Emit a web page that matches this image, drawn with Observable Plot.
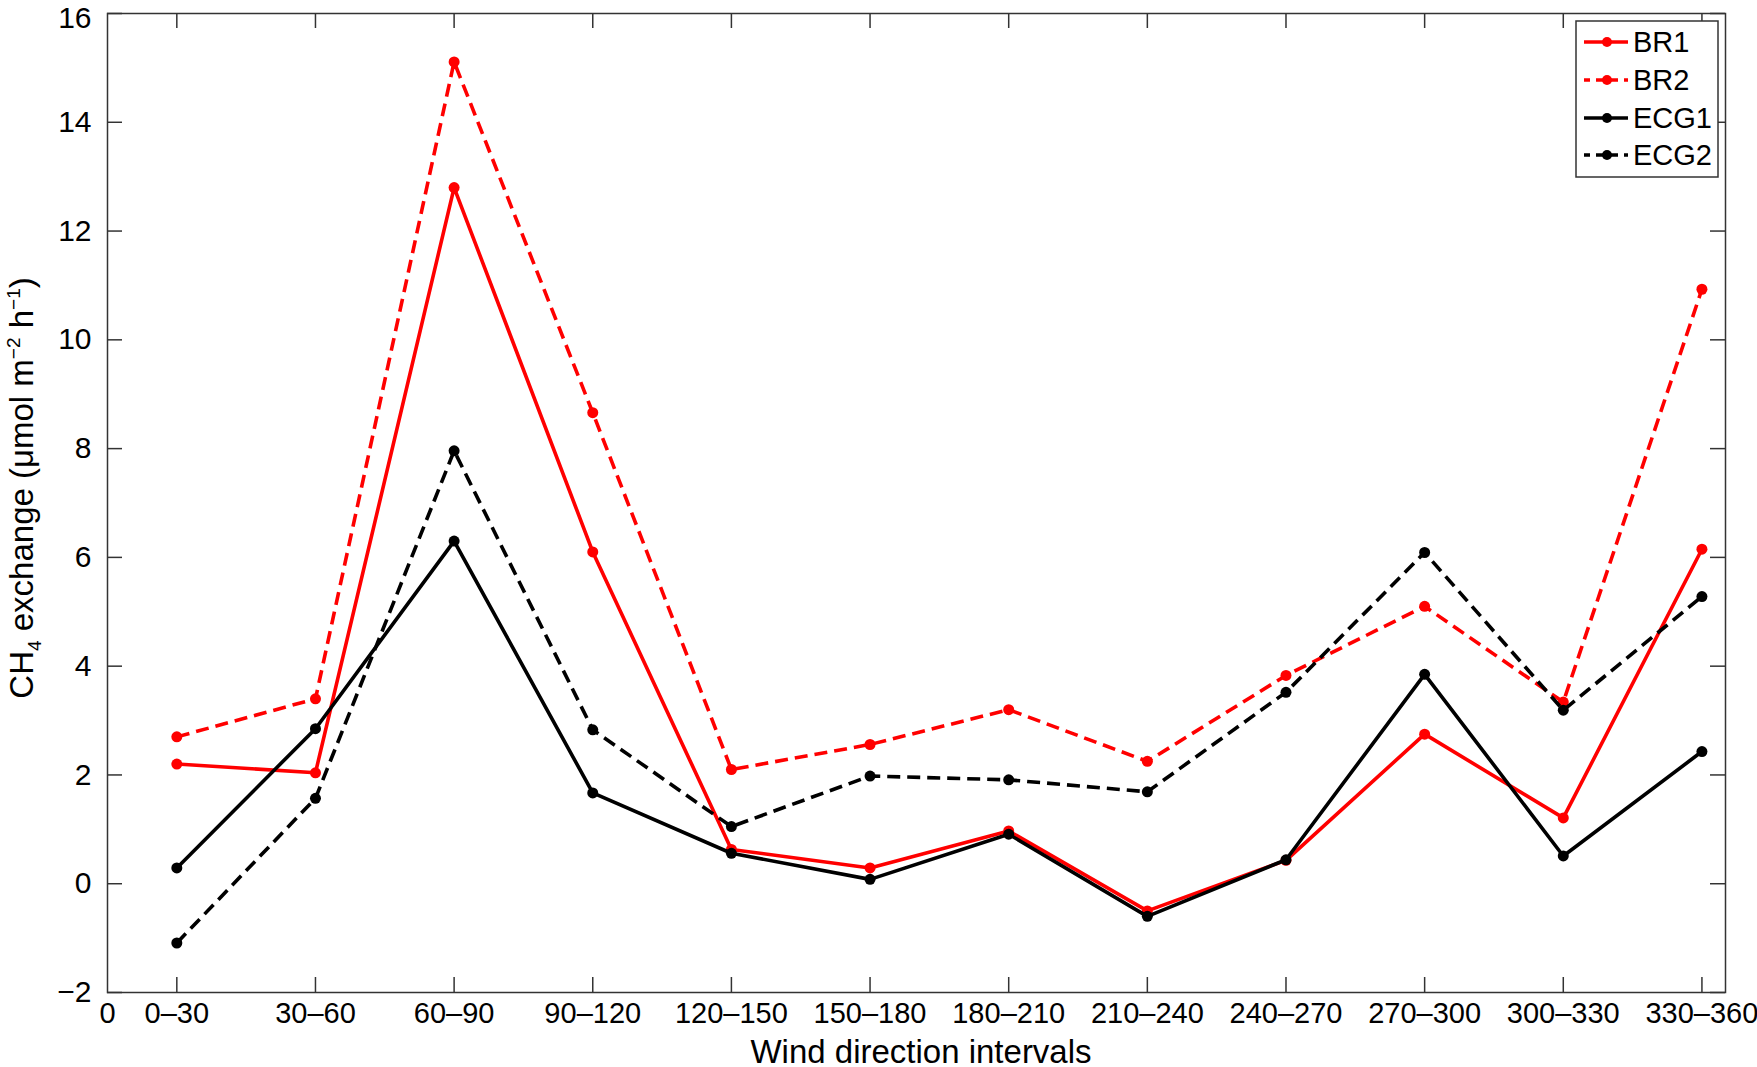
<!DOCTYPE html>
<html>
<head>
<meta charset="utf-8">
<script src="https://cdn.jsdelivr.net/npm/d3@7"></script>
<script src="https://cdn.jsdelivr.net/npm/@observablehq/plot@0.6"></script>
<style>
  html, body { margin: 0; padding: 0; background: #fff; }
  #chart { width: 1757px; height: 1067px; }
  svg text { font-family: "Liberation Sans", Arial, Helvetica, sans-serif; }
</style>
</head>
<body>
<div id="chart"></div>
<script>
// ---- data ----
const categories = ["0–30","30–60","60–90","90–120","120–150","150–180","180–210","210–240","240–270","270–300","300–330","330–360"];
const br1  = [2.20, 2.04, 12.80, 6.10, 0.63, 0.29, 0.97, -0.50, 0.43, 2.75, 1.21, 6.15];
const br2  = [2.70, 3.40, 15.11, 8.66, 2.10, 2.56, 3.20, 2.25, 3.83, 5.10, 3.34, 10.93];
const ecg1 = [0.29, 2.85, 6.30, 1.67, 0.56, 0.08, 0.91, -0.60, 0.44, 3.85, 0.51, 2.43];
const ecg2 = [-1.09, 1.57, 7.96, 2.83, 1.05, 1.98, 1.91, 1.69, 3.52, 6.09, 3.19, 5.28];
const seriesNames = ["BR1", "BR2", "ECG1", "ECG2"];
const yTicks = [-2, 0, 2, 4, 6, 8, 10, 12, 14, 16];
const xLabelZero = "0";

// ---- layout ----
const W = 1757, H = 1067;
const mTop = 13, mRight = 32, mBottom = 75, mLeft = 107;
const plotW = W - mLeft - mRight, plotH = H - mTop - mBottom;
const tickLen = 15;
const axisColor = "#333";

const styles = {
  BR1:  {stroke: "#ff0000", dash: null},
  BR2:  {stroke: "#ff0000", dash: "13,7"},
  ECG1: {stroke: "#000000", dash: null},
  ECG2: {stroke: "#000000", dash: "13,7"}
};
const valuesBySeries = {BR1: br1, BR2: br2, ECG1: ecg1, ECG2: ecg2};
const rows = seriesNames.flatMap(s => valuesBySeries[s].map((v, i) => ({series: s, idx: i + 1, value: v})));
const xIdx = categories.map((c, i) => i + 1);
const xLabelPos = [0.5, ...xIdx];
const xLabelText = [xLabelZero, ...categories];
const yMax = d3.max(yTicks);
const fmtY = d => (d < 0 ? "\u2212" + Math.abs(d) : String(d));

const marks = [
  Plot.frame({stroke: axisColor, strokeWidth: 1.5}),
  Plot.ruleX(xIdx, {x: d => d, insetTop: plotH - tickLen, stroke: axisColor, strokeWidth: 1.5}),
  Plot.ruleX(xIdx, {x: d => d, insetBottom: plotH - tickLen, stroke: axisColor, strokeWidth: 1.5}),
  Plot.ruleY(yTicks, {y: d => d, insetRight: plotW - tickLen, stroke: axisColor, strokeWidth: 1.5}),
  Plot.ruleY(yTicks, {y: d => d, insetLeft: plotW - tickLen, stroke: axisColor, strokeWidth: 1.5}),
  Plot.text(xLabelPos, {x: d => d, frameAnchor: "bottom", lineAnchor: "top", dy: 10,
    text: (d, i) => xLabelText[i], fontSize: 29, fill: "#000"}),
  Plot.text(yTicks.filter(d => d < yMax), {y: d => d, frameAnchor: "left", textAnchor: "end", dx: -16,
    text: fmtY, fontSize: 30, fill: "#000"}),
  // top label nudged down so it stays inside the picture, as in the reference
  Plot.text([yMax], {y: d => d, frameAnchor: "left", textAnchor: "end", dx: -16, dy: 5,
    text: fmtY, fontSize: 30, fill: "#000"})
];

for (const s of seriesNames) {
  const data = rows.filter(r => r.series === s);
  const st = styles[s];
  marks.push(Plot.line(data, {x: "idx", y: "value", stroke: st.stroke, strokeWidth: 3.6,
    strokeDasharray: st.dash, strokeLinejoin: "round", strokeLinecap: "butt"}));
  marks.push(Plot.dot(data, {x: "idx", y: "value", r: 5.5, fill: st.stroke, stroke: "none"}));
}

const chart = Plot.plot({
  width: W, height: H,
  marginTop: mTop, marginRight: mRight, marginBottom: mBottom, marginLeft: mLeft,
  style: {background: "#fff", fontFamily: "'Liberation Sans', Arial, sans-serif", overflow: "visible"},
  x: {type: "linear", domain: [0.5, 12.17], axis: null},
  y: {type: "linear", domain: [-2, 16], axis: null},
  marks
});
document.getElementById("chart").appendChild(chart);

// ---- titles & legend (layout only) ----
const svg = d3.select(chart);
svg.append("text")
  .attr("x", mLeft + plotW / 2 + 5).attr("y", 1063)
  .attr("text-anchor", "middle").attr("font-size", 33).attr("fill", "#000")
  .text("Wind direction intervals");

const yt = svg.append("text")
  .attr("transform", "translate(33,488) rotate(-90)")
  .attr("text-anchor", "middle").attr("font-size", 33).attr("fill", "#000");
yt.append("tspan").text("CH");
yt.append("tspan").attr("font-size", 19).attr("dy", 8).text("4");
yt.append("tspan").attr("dy", -8).text(" exchange (μmol m");
yt.append("tspan").attr("font-size", 19).attr("dy", -13).text("\u22122");
yt.append("tspan").attr("dy", 13).text(" h");
yt.append("tspan").attr("font-size", 19).attr("dy", -13).text("\u22121");
yt.append("tspan").attr("dy", 13).text(")");

const lg = svg.append("g");
lg.append("rect").attr("x", 1576).attr("y", 21).attr("width", 142).attr("height", 156)
  .attr("fill", "#fff").attr("stroke", axisColor).attr("stroke-width", 1.5);
const legY = [42, 80, 118, 155];
seriesNames.forEach((s, i) => {
  const st = styles[s];
  lg.append("line").attr("x1", 1584).attr("x2", 1628).attr("y1", legY[i]).attr("y2", legY[i])
    .attr("stroke", st.stroke).attr("stroke-width", 3.6)
    .attr("stroke-dasharray", st.dash ? "8,6" : null)
    .attr("stroke-dashoffset", st.dash ? 2 : null);
  lg.append("circle").attr("cx", 1607).attr("cy", legY[i]).attr("r", 5).attr("fill", st.stroke);
  lg.append("text").attr("x", 1633).attr("y", legY[i]).attr("dy", "0.36em")
    .attr("text-anchor", "start")
    .attr("font-size", 29).attr("fill", "#000").text(s);
});
</script>
</body>
</html>
